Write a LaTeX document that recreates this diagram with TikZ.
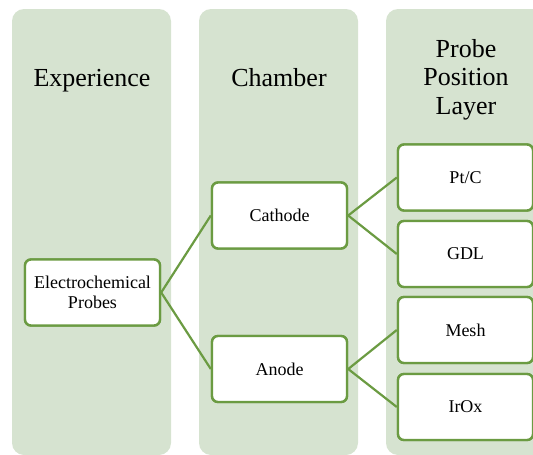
\documentclass[tikz,border=0pt]{standalone}
\usepackage{fontspec}
\setmainfont{Liberation Serif}
\definecolor{lanefill}{RGB}{214,227,208}
\definecolor{edgegreen}{RGB}{107,155,66}
\tikzset{
  lane/.style={fill=lanefill, draw=none, rounded corners=12pt},
  head/.style={align=center, inner sep=0pt, font=\fontsize{26}{28.5}\selectfont},
  item/.style={draw=edgegreen, line width=2.4pt, fill=white, rounded corners=6pt,
    minimum width=135pt, minimum height=66pt, align=center, inner sep=2pt,
    font=\fontsize{18}{20}\selectfont},
  link/.style={draw=edgegreen, line width=2.2pt}
}
\begin{document}
\begin{tikzpicture}[x=1pt,y=-1pt]
  \useasboundingbox (0,0) rectangle (533,455);
  \clip (0,0) rectangle (533,455);
  % three column lanes
  \fill[lane] (12,9) rectangle (171,455);
  \fill[lane] (199,9) rectangle (358,455);
  \fill[lane] (386,9) rectangle (560,455);
  % lane headings
  \node[head, anchor=base] (h1) at (92,86) {Experience};
  \node[head, anchor=base] (h2) at (279,86) {Chamber};
  \node[head] (h3) at (466,79.5) {Probe\\Position\\Layer};
  % boxes
  \node[item] (ep) at (92.5,292.5) {Electrochemical\\Probes};
  \node[item] (ca) at (279.5,215.5) {Cathode};
  \node[item] (an) at (279.5,369) {Anode};
  \node[item] (pt) at (465.5,177.5) {Pt/C};
  \node[item] (gd) at (465.5,254) {GDL};
  \node[item] (me) at (465.5,330) {Mesh};
  \node[item] (ir) at (465.5,407) {IrOx};
  % connectors
  \draw[link] (ep.east) -- (ca.west);
  \draw[link] (ep.east) -- (an.west);
  \draw[link] (ca.east) -- (pt.west);
  \draw[link] (ca.east) -- (gd.west);
  \draw[link] (an.east) -- (me.west);
  \draw[link] (an.east) -- (ir.west);
  % redraw boxes over the line ends
  \node[item] at (ep) {Electrochemical\\Probes};
  \node[item] at (ca) {Cathode};
  \node[item] at (an) {Anode};
  \node[item] at (pt) {Pt/C};
  \node[item] at (gd) {GDL};
  \node[item] at (me) {Mesh};
  \node[item] at (ir) {IrOx};
\end{tikzpicture}
\end{document}
